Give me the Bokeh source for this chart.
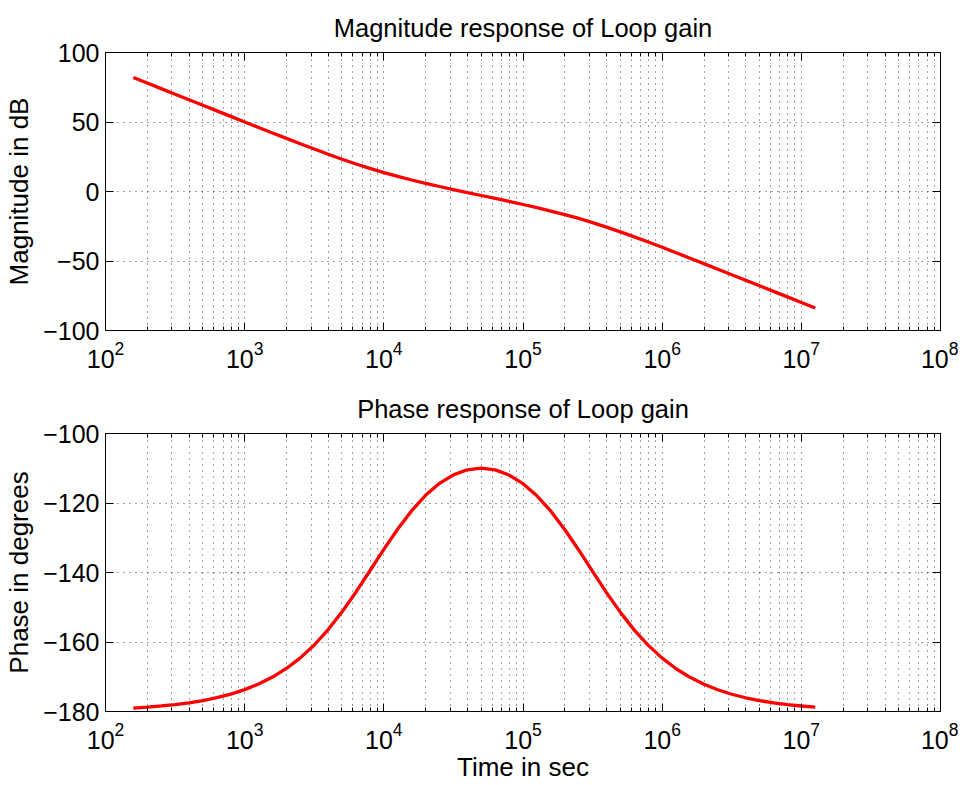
from bokeh.plotting import figure
from bokeh.models import Range1d, FixedTicker, LogAxis, LinearAxis
from bokeh.layouts import column
from bokeh.embed import file_html
from bokeh.resources import INLINE

# ---- data ----
freq = [158.5, 199.5, 251.2, 316.2, 398.1, 501.2, 631.0, 794.3,
        1000, 1259, 1585, 1995, 2512, 3162, 3981, 5012, 6310, 7943,
        10000, 12590, 15850, 19950, 25120, 31620, 39810, 50120, 63100, 79430,
        100000, 125900, 158500, 199500, 251200, 316200, 398100, 501200, 631000, 794300,
        1000000, 1259000, 1585000, 1995000, 2512000, 3162000, 3981000, 5012000, 6310000, 7943000,
        10000000, 12590000]

magnitude_db = [82.00, 78.00, 74.00, 70.01, 66.01, 62.01, 58.02, 54.04,
                50.06, 46.09, 42.14, 38.22, 34.34, 30.53, 26.81, 23.22, 19.80, 16.59,
                13.60, 10.84, 8.27, 5.87, 3.59, 1.39, -0.76, -2.88, -5.01, -7.15,
                -9.35, -11.64, -14.05, -16.62, -19.39, -22.38, -25.60, -29.03, -32.62, -36.34,
                -40.16, -44.04, -47.96, -51.91, -55.88, -59.86, -63.84, -67.83, -71.83, -75.83,
                -79.83, -83.82]

phase_deg = [-179.00, -178.74, -178.41, -178.00, -177.49, -176.84, -176.02, -175.00,
             -173.71, -172.10, -170.10, -167.61, -164.56, -160.86, -156.43, -151.32, -145.60, -139.50,
             -133.33, -127.47, -122.21, -117.79, -114.35, -111.90, -110.44, -109.96, -110.46, -111.96,
             -114.43, -117.92, -122.35, -127.63, -133.51, -139.67, -145.78, -151.48, -156.58, -160.97,
             -164.65, -167.70, -170.17, -172.16, -173.75, -175.03, -176.05, -176.86, -177.50, -178.01,
             -178.42, -178.75]

x_major_ticks = [1e2, 1e3, 1e4, 1e5, 1e6, 1e7, 1e8]
x_minor_ticks = [m * 10.0 ** k for k in range(2, 8) for m in range(2, 10)]

mag_ticks = [-100, -50, 0, 50, 100]
mag_tick_labels = ["\u2212100", "\u221250", "0", "50", "100"]
phase_ticks = [-180, -160, -140, -120, -100]
phase_tick_labels = ["\u2212180", "\u2212160", "\u2212140", "\u2212120", "\u2212100"]

mag_title = "Magnitude response of Loop gain"
phase_title = "Phase response of Loop gain"
mag_ylabel = "Magnitude in dB"
phase_ylabel = "Phase in degrees"
xlabel = "Time in sec"

FONT = "Liberation Sans"


def style_axis(ax):
    ax.axis_line_color = "black"
    ax.major_tick_line_color = "black"
    ax.minor_tick_line_color = "black"
    ax.major_tick_in = 8
    ax.major_tick_out = 0
    ax.minor_tick_in = 4
    ax.minor_tick_out = 0


def hide_labels(ax):
    ax.major_label_text_font_size = "2px"
    ax.major_label_text_alpha = 0
    ax.major_label_standoff = 0


def make_fig(height, yr, yticks, ylabels, title, ylabel, border_bottom, x_label=None):
    p = figure(width=958, height=height, x_axis_type="log",
               x_range=Range1d(1e2, 1e8), y_range=Range1d(*yr),
               output_backend="svg", toolbar_location=None,
               min_border_left=105, min_border_right=18,
               min_border_top=52, min_border_bottom=border_bottom,
               title=title)
    p.background_fill_color = "white"
    p.border_fill_color = "white"
    p.outline_line_color = "black"
    p.outline_line_width = 1

    p.title.text_font = FONT
    p.title.text_font_size = "25.5px"
    p.title.text_font_style = "normal"
    p.title.align = "center"
    p.title.vertical_align = "top"
    p.title.text_color = "black"
    p.title.standoff = 18

    xt = FixedTicker(ticks=x_major_ticks, minor_ticks=x_minor_ticks)
    yt = FixedTicker(ticks=yticks)

    xa = p.xaxis[0]
    xa.ticker = xt
    ya = p.yaxis[0]
    ya.ticker = yt
    ya.major_label_overrides = dict(zip(yticks, ylabels))

    for ax in (xa, ya):
        style_axis(ax)
        ax.major_label_text_font = FONT
        ax.major_label_text_font_size = "25px"
        ax.major_label_text_color = "black"
        ax.axis_label_text_font = FONT
        ax.axis_label_text_font_size = "26px"
        ax.axis_label_text_font_style = "normal"
        ax.axis_label_text_color = "black"
    ya.minor_tick_in = 0
    xa.major_label_standoff = 10
    ya.major_label_standoff = 6
    ya.axis_label = ylabel
    ya.axis_label_standoff = 6
    if x_label is not None:
        xa.axis_label = x_label
        xa.axis_label_standoff = 0

    top = LogAxis(ticker=xt)
    style_axis(top)
    hide_labels(top)
    p.add_layout(top, "above")
    right = LinearAxis(ticker=yt)
    style_axis(right)
    right.minor_tick_in = 0
    hide_labels(right)
    p.add_layout(right, "right")

    p.xgrid.ticker = xt
    p.ygrid.ticker = yt
    p.xgrid.grid_line_color = "black"
    p.xgrid.grid_line_alpha = 0.75
    p.xgrid.grid_line_dash = "1 5"
    p.xgrid.minor_grid_line_color = "black"
    p.xgrid.minor_grid_line_alpha = 0.75
    p.xgrid.minor_grid_line_dash = "1 5"
    p.ygrid.grid_line_color = "black"
    p.ygrid.grid_line_alpha = 0.75
    p.ygrid.grid_line_dash = "1 5"
    return p


p1 = make_fig(381, (-100, 100), mag_ticks, mag_tick_labels, mag_title, mag_ylabel, 51)
p1.line(freq, magnitude_db, line_color="red", line_width=3.3)

p2 = make_fig(404, (-180, -100), phase_ticks, phase_tick_labels, phase_title, phase_ylabel, 74,
              x_label=xlabel)
p2.line(freq, phase_deg, line_color="red", line_width=3.3)

layout = column(p1, p2)
open("out.html", "w").write(file_html(layout, INLINE))
